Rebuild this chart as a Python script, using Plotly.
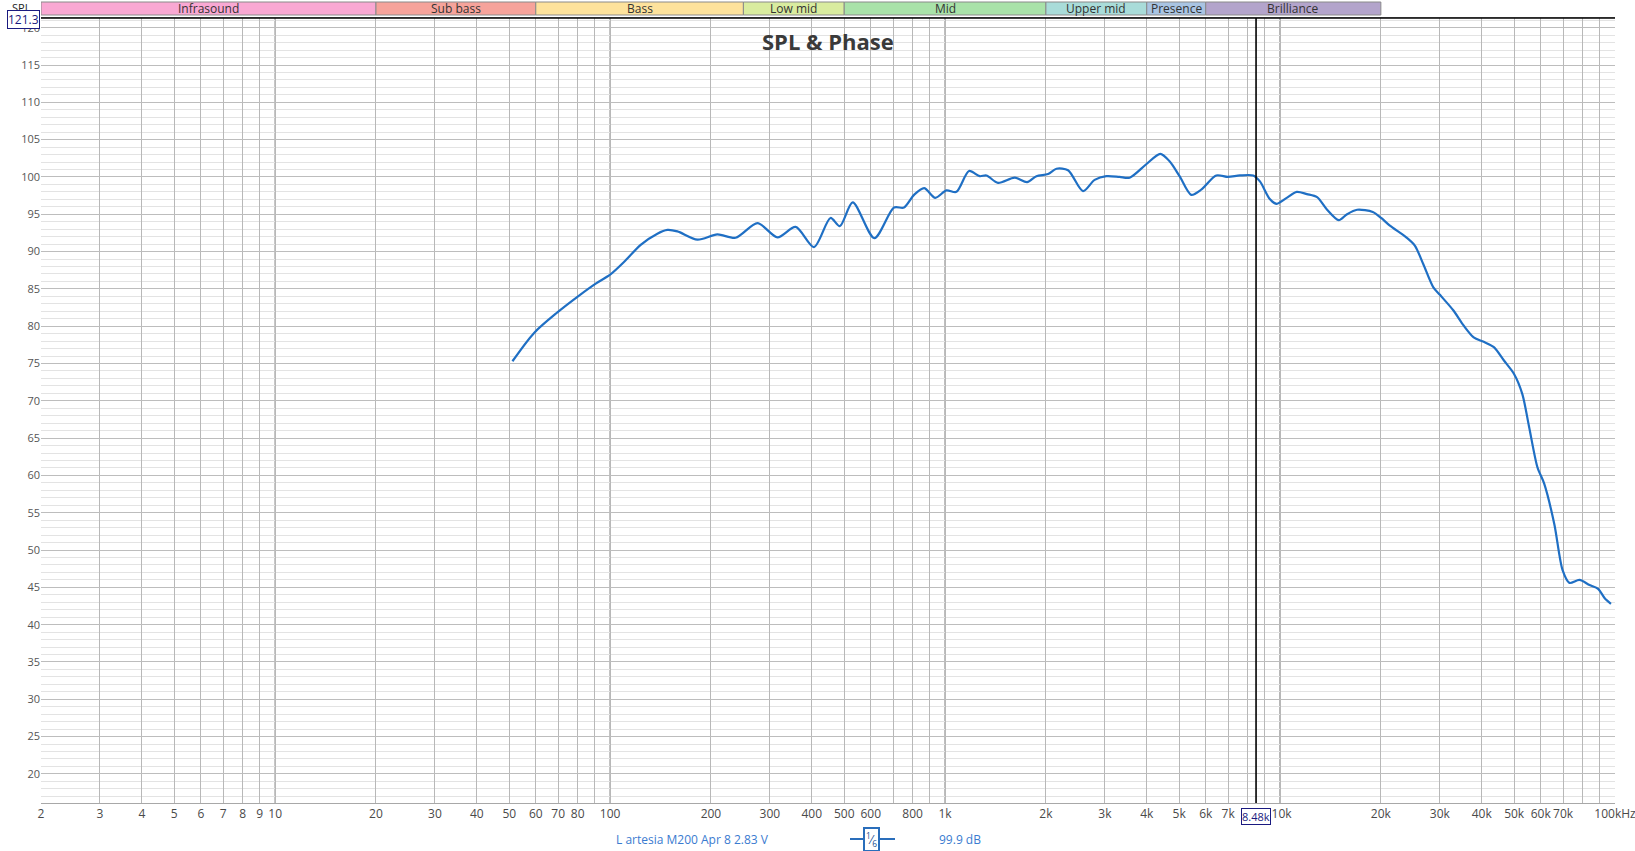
import math
import plotly.graph_objects as go

# ---- data ----
freq_hz = [51.1, 59.3, 69.6, 80.8, 90.6, 100, 110, 123.4, 138.4, 148.3, 158.8, 182.3, 209, 237,
           275.5, 316, 358, 406, 455, 485, 530, 615, 704, 754, 808, 866, 935, 1009, 1081, 1179,
           1269, 1329, 1439, 1614, 1757, 1874, 2030, 2150, 2329, 2581, 2796, 3030, 3320, 3557,
           3987, 4391, 4680, 5013, 5430, 5818, 6450, 6990, 7590, 8317, 8710, 9334, 9775, 10470,
           11220, 12030, 12900, 13820, 14970, 15850, 16990, 18920, 20040, 21230, 23820, 25260,
           26780, 28690, 30020, 32940, 35310, 37850, 40560, 43480, 46610, 49960, 52890, 55410,
           58670, 61460, 65880, 69750, 73090, 78340, 83980, 89030, 93310, 97270]
spl_db = [75.3, 79.1, 81.85, 84.1, 85.7, 86.9, 88.6, 90.9, 92.4, 92.9, 92.7, 91.6, 92.3, 91.85,
          93.8, 91.9, 93.3, 90.6, 94.5, 93.4, 96.6, 91.8, 95.9, 95.9, 97.6, 98.5, 97.2, 98.2, 98.0, 100.8,
          100.1, 100.2, 99.2, 99.9, 99.3, 100.1, 100.4, 101.1, 100.9, 98.1, 99.6, 100.1, 100.0, 99.9,
          101.7, 103.1, 102.1, 100.1, 97.6, 98.3, 100.2, 100.0, 100.2, 100.2, 99.4, 97.0, 96.4, 97.2,
          98.0, 97.7, 97.3, 95.6, 94.2, 95.0, 95.6, 95.3, 94.5, 93.5, 91.9, 90.8,
          88.3, 85.2, 84.2, 82.1, 80.1, 78.5, 77.9, 77.2, 75.4, 73.6, 70.9, 66.5,
          61.1, 58.9, 53.5, 47.3, 45.6, 46.0, 45.3, 44.8, 43.5, 42.8]

band_names = ["Infrasound", "Sub bass", "Bass", "Low mid", "Mid", "Upper mid", "Presence", "Brilliance"]
band_edges = [2, 20, 60, 250, 500, 2000, 4000, 6000, 20000]
band_colors = ["#f9a8d3", "#f6a39b", "#fde29c", "#d9ec9f", "#a9e2a9", "#a9dcd9", "#a9c4e2", "#b3a4cb"]

x_tick_vals = [2, 3, 4, 5, 6, 7, 8, 9,
               10, 20, 30, 40, 50, 60, 70, 80, 90,
               100, 200, 300, 400, 500, 600, 700, 800, 900,
               1000, 2000, 3000, 4000, 5000, 6000, 7000, 8000, 9000,
               10000, 20000, 30000, 40000, 50000, 60000, 70000, 80000, 90000, 99999]
x_tick_text = ["2", "3", "4", "5", "6", "7", "8", "9",
               "10", "20", "30", "40", "50", "60", "70", "80", "",
               "100", "200", "300", "400", "500", "600", "", "800", "",
               "1k", "2k", "3k", "4k", "5k", "6k", "7k", "", "",
               " 10k", "20k", "30k", "40k", "50k", "60k", "70k", "", "", "100kHz"]
y_tick_vals = list(range(20, 121, 5))
decade_lines = [10, 100, 1000, 10000]
cursor_freq = 8480
cursor_label = "8.48k"
cursor_value = "99.9 dB"
y_cursor_label = "121.3"
trace_name = "L artesia M200 Apr 8 2.83 V"

# ---- layout geometry ----
W, H = 1635, 851
ML, MR, MT, MB = 41, 20, 18, 48
PW, PH = W - ML - MR, H - MT - MB


def py(ypix):
    return (H - MB - ypix) / PH


def px(xpix):
    return (xpix - ML) / PW


fig = go.Figure()
fig.add_trace(go.Scatter(x=freq_hz, y=spl_db, mode="lines",
                         line=dict(color="#1f6fc4", width=2.2, shape="spline", smoothing=0.8),
                         name=trace_name, showlegend=False, hoverinfo="x+y"))

shapes = []
for d in decade_lines:
    shapes.append(dict(type="line", xref="x", yref="paper", x0=d, x1=d, y0=0, y1=1,
                       line=dict(color="#6a6a6a", width=1), layer="below"))
shapes.append(dict(type="line", xref="x", yref="paper", x0=cursor_freq, x1=cursor_freq, y0=0, y1=1,
                   line=dict(color="#000000", width=1.6)))
shapes.append(dict(type="line", xref="paper", yref="paper", x0=0, x1=1, y0=1, y1=1,
                   line=dict(color="#000000", width=1.5)))
annotations = []
for i, name in enumerate(band_names):
    shapes.append(dict(type="rect", xref="x", yref="paper",
                       x0=band_edges[i], x1=band_edges[i + 1], y0=py(15), y1=py(2),
                       fillcolor=band_colors[i], line=dict(color="#8a8a8a", width=1)))
    xm = 10 ** ((math.log10(band_edges[i]) + math.log10(band_edges[i + 1])) / 2)
    annotations.append(dict(x=math.log10(xm), y=py(8.5), xref="x", yref="paper", text=name,
                            showarrow=False, font=dict(size=12, color="#333333", family="Open Sans"),
                            xanchor="center", yanchor="middle"))

annotations.append(dict(x=0.5, y=py(41), xref="paper", yref="paper", text="<b>SPL & Phase</b>",
                        showarrow=False, font=dict(size=22, color="#3a3a3a", family="Open Sans"),
                        xanchor="center", yanchor="middle"))
annotations.append(dict(x=px(21), y=py(7), xref="paper", yref="paper", text="SPL",
                        showarrow=False, font=dict(size=11, color="#222222", family="Open Sans"),
                        xanchor="center", yanchor="middle"))
annotations.append(dict(x=px(23), y=py(19), xref="paper", yref="paper", text=y_cursor_label,
                        showarrow=False, font=dict(size=12, color="#1a1a80", family="Open Sans"),
                        xanchor="center", yanchor="middle", bgcolor="#ffffff",
                        bordercolor="#1a1a80", borderwidth=1, borderpad=0))
annotations.append(dict(x=math.log10(cursor_freq), y=py(816), xref="x", yref="paper", text=cursor_label,
                        showarrow=False, font=dict(size=11, color="#1a1a80", family="Open Sans"),
                        xanchor="center", yanchor="middle", bgcolor="#ffffff",
                        bordercolor="#1a1a80", borderwidth=1, borderpad=0))
annotations.append(dict(x=px(692), y=py(839), xref="paper", yref="paper", text=trace_name,
                        showarrow=False, font=dict(size=12, color="#3a7bd0", family="Open Sans"),
                        xanchor="center", yanchor="middle"))
shapes.append(dict(type="line", xref="paper", yref="paper", x0=px(850), x1=px(895),
                   y0=py(839), y1=py(839), line=dict(color="#2a6ebb", width=2)))
annotations.append(dict(x=px(872), y=py(839), xref="paper", yref="paper",
                        text="<sup>1</sup>⁄<sub>6</sub>",
                        showarrow=False, font=dict(size=12, color="#1a4f90", family="Open Sans"),
                        xanchor="center", yanchor="middle", bgcolor="#ffffff",
                        bordercolor="#2a6ebb", borderwidth=2, borderpad=1))
annotations.append(dict(x=px(960), y=py(839), xref="paper", yref="paper", text=cursor_value,
                        showarrow=False, font=dict(size=12, color="#3a7bd0", family="Open Sans"),
                        xanchor="center", yanchor="middle"))

fig.update_layout(
    width=W, height=H,
    margin=dict(l=ML, r=MR, t=MT, b=MB, pad=0, autoexpand=False),
    paper_bgcolor="#ffffff", plot_bgcolor="#ffffff",
    shapes=shapes, annotations=annotations,
    font=dict(family="Open Sans", size=12, color="#505050"),
    xaxis=dict(type="log", range=[math.log10(2), math.log10(100000)],
               tickmode="array", tickvals=x_tick_vals, ticktext=x_tick_text, tickangle=0,
               ticklabeloverflow="allow", automargin=False,
               showgrid=True, gridcolor="#b8b8b8", gridwidth=1, ticks="",
               showline=True, linecolor="#a8a8a8", mirror=True, zeroline=False,
               tickfont=dict(size=12, color="#4a4a4a")),
    yaxis=dict(range=[16.1, 121.3], tickmode="array", tickvals=y_tick_vals, automargin=False,
               showgrid=True, gridcolor="#bdbdbd", gridwidth=1, ticks="",
               minor=dict(dtick=1, showgrid=True, gridcolor="#e3e3e3", gridwidth=1),
               showline=False, zeroline=False,
               tickfont=dict(size=11, color="#555555")),
)

fig.write_html("out.html", config={"displayModeBar": False},
               post_script="document.body.style.margin='0';")
